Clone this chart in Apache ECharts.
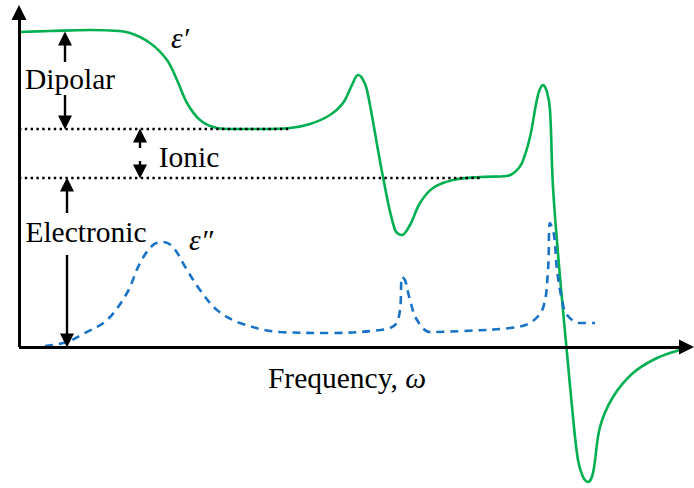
<!DOCTYPE html>
<html><head><meta charset="utf-8">
<script src="https://cdn.jsdelivr.net/npm/echarts@6/dist/echarts.min.js"></script>
<style>html,body{margin:0;padding:0;background:#fff}#c{width:694px;height:488px}</style>
</head><body><div id="c"></div>
<script>
// Real part of permittivity, epsilon'
const EPS1_X = [0, 3.1, 7.1, 9.1, 11.1, 13.1, 14.8, 15.8, 16.8, 18.1, 19.8, 21.4, 24.1, 27.1, 29.1, 31.1, 32.4, 33.3, 33.9, 34.3, 34.8, 36.4, 37.6, 38.3, 39.1, 40.1, 41.4, 43.4, 46.1, 48.8, 49.6, 50.3, 51.1, 51.9, 52.4, 52.8, 53.1, 53.4, 54.1, 54.8, 55.4, 55.9, 56.4, 56.9, 57.4, 58.1, 59.4, 61.4, 63.8, 66.1];
const EPS1_Y = [31.5, 31.6, 31.7, 31.65, 31.4, 30.4, 28.7, 26.7, 24.4, 22.7, 21.9, 21.8, 21.8, 21.9, 22.3, 23.2, 24.4, 26.2, 27.2, 26.9, 25.7, 17.0, 11.7, 11.2, 12.2, 14.4, 15.9, 16.7, 17.0, 17.1, 17.5, 18.4, 21.0, 25.2, 26.2, 25.5, 23.7, 16.0, 7.0, -0.6, -7.0, -11.3, -13.0, -13.5, -12.6, -8.0, -5.0, -2.6, -1.1, -0.3];
// Imaginary part, epsilon''
const EPS2_X = [2.6, 4.8, 6.4, 8.8, 10.8, 12.1, 13.4, 14.4, 15.4, 16.8, 18.1, 19.8, 22.1, 26.1, 31.1, 36.1, 37.6, 38.1, 38.3, 38.6, 39.1, 39.8, 41.1, 44.4, 49.1, 51.1, 52.4, 52.9, 53.1, 53.5, 53.8, 54.3, 54.8, 56.1, 57.6];
const EPS2_Y = [0.1, 0.5, 1.3, 2.7, 5.4, 8.4, 10.2, 10.5, 10.0, 7.7, 5.7, 3.7, 2.4, 1.5, 1.4, 1.7, 2.2, 3.7, 7.0, 6.7, 4.7, 2.7, 1.5, 1.6, 1.9, 2.4, 3.9, 7.7, 12.4, 11.2, 7.7, 4.7, 3.2, 2.4, 2.4];
// Plateau levels
const LEVEL_STATIC = 31.5;
const LEVEL_DIPOLAR = 21.8;
const LEVEL_IONIC = 16.9;
const LEVEL_ZERO = 0;
const DIPOLAR_END_X = 27.1;
const IONIC_END_X = 46.1;
// Arrow annotations: [x, from-y, tip-y]
const ARROWS = [
  [4.6, 28.5, LEVEL_STATIC],
  [4.6, 25.2, LEVEL_DIPOLAR],
  [12.1, 19.9, LEVEL_DIPOLAR],
  [12.1, 18.6, LEVEL_IONIC],
  [4.8, 13.4, LEVEL_IONIC],
  [4.8, 9.2, LEVEL_ZERO]
];
const AXIS_X_END = 67.5;
const AXIS_Y_END = 34.2;

const chart = echarts.init(document.getElementById('c'), null, {renderer: 'svg'});
const zip = (xs, ys) => xs.map((x, i) => [x, ys[i]]);
const HEAD = 0.65; // half arrow head in data units (for tip placement)

const arrowData = ARROWS.map(([x, y0, y1]) => {
  const s = Math.sign(y1 - y0);
  return [{coord: [x, y0], symbol: 'none'}, {coord: [x, y1 - s * HEAD], symbol: 'triangle', symbolSize: 14}];
});
const axisData = [
  [{coord: [0, 0], symbol: 'none'}, {coord: [AXIS_X_END - 0.75, 0], symbol: 'triangle', symbolSize: 15}],
  [{coord: [0, 0], symbol: 'none'}, {coord: [0, AXIS_Y_END - 0.75], symbol: 'triangle', symbolSize: 15}]
];
const SERIF = 'Liberation Serif';
const FS = 29.5;
const txt = (t, x, y, italic) => ({
  type: 'text', x: x, y: y,
  style: {text: t, fontFamily: SERIF, fontSize: FS, fontStyle: italic ? 'italic' : 'normal', fill: '#000', textAlign: 'center', textVerticalAlign: 'middle'}
});

chart.setOption({
  animation: false,
  grid: {left: 19, right: 0, top: 0, bottom: 0},
  xAxis: {type: 'value', min: 0, max: AXIS_X_END, show: false},
  yAxis: {type: 'value', min: -14.1, max: 34.7, show: false},
  series: [
    {
      type: 'line', name: 'levels', data: [], silent: true,
      markLine: {
        silent: true, animation: false, symbol: ['none', 'none'], label: {show: false},
        lineStyle: {color: '#000', width: 2.4, type: [2.4, 3.4]},
        data: [
          [{coord: [0, LEVEL_DIPOLAR]}, {coord: [DIPOLAR_END_X, LEVEL_DIPOLAR]}],
          [{coord: [0, LEVEL_IONIC]}, {coord: [IONIC_END_X, LEVEL_IONIC]}]
        ]
      }
    },
    {
      type: 'line', name: "ε'", data: zip(EPS1_X, EPS1_Y), smooth: 0.35, showSymbol: false,
      lineStyle: {color: '#00b050', width: 2.6}, z: 3
    },
    {
      type: 'line', name: "ε''", data: zip(EPS2_X, EPS2_Y), smooth: 0.35, showSymbol: false,
      lineStyle: {color: '#1873c6', width: 2.6, type: [8, 6]}, z: 3
    },
    {
      type: 'line', name: 'axes', data: [], silent: true, z: 4,
      markLine: {
        silent: true, animation: false, label: {show: false},
        lineStyle: {color: '#000', width: 3, type: 'solid'},
        itemStyle: {color: '#000'},
        data: axisData
      }
    },
    {
      type: 'line', name: 'arrows', data: [], silent: true, z: 4,
      markLine: {
        silent: true, animation: false, label: {show: false},
        lineStyle: {color: '#000', width: 2.4, type: 'solid'},
        itemStyle: {color: '#000'},
        data: arrowData
      }
    }
  ],
  graphic: [
    txt('Dipolar', 70, 79, false),
    txt('Ionic', 189, 157, false),
    txt('Electronic', 86, 232, false),
    txt('ε′', 180, 38, true),
    txt('ε″', 201, 240, true),
    {type: 'text', x: 347, y: 378, style: {
      text: '{n|Frequency, }{i|ω}', textAlign: 'center', textVerticalAlign: 'middle', fill: '#000',
      rich: {n: {fontFamily: SERIF, fontSize: FS, fill: '#000'}, i: {fontFamily: SERIF, fontSize: FS, fontStyle: 'italic', fill: '#000'}}
    }}
  ]
});
</script>
</body></html>
